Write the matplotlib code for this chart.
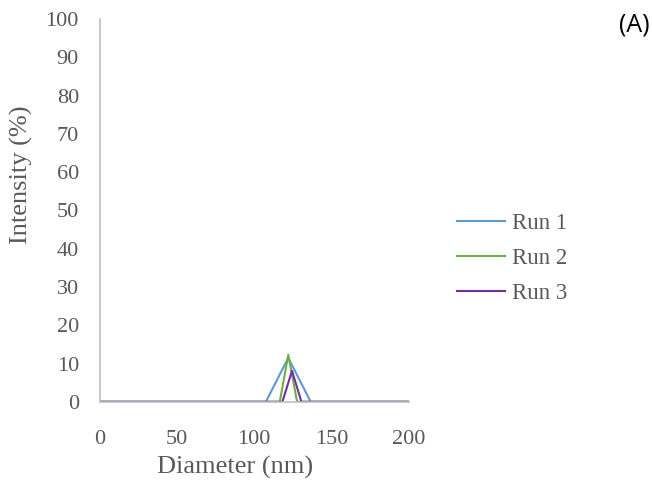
import matplotlib.pyplot as plt

# Particle size distribution (intensity) for three runs
run1_x = [0, 107.5, 122.0, 136.5, 200]
run1_y = [0, 0, 11.5, 0, 0]
run2_x = [0, 116.5, 122.0, 127.7, 200]
run2_y = [0, 0, 12.3, 0, 0]
run3_x = [0, 118.2, 124.4, 130.5, 200]
run3_y = [0, 0, 8.1, 0, 0]

x_ticks = [0, 50, 100, 150, 200]
y_ticks = list(range(0, 101, 10))

grey = '#595959'
plt.rcParams['font.family'] = ['Liberation Serif', 'DejaVu Serif']

fig = plt.figure(figsize=(6.52, 4.90), dpi=100, facecolor='white')
ax = fig.add_axes([0.153, 0.180, 0.474, 0.781])

ax.plot(run1_x, run1_y, color='#5B9BD5', linewidth=1.5, label='Run 1')
ax.plot(run2_x, run2_y, color='#70AD47', linewidth=1.5, label='Run 2')
ax.plot(run3_x, run3_y, color='#7030A0', linewidth=1.5, label='Run 3')

ax.set_xlim(0, 200)
ax.set_ylim(0, 100)
ax.set_xticks(x_ticks)
ax.set_yticks(y_ticks)
ax.tick_params(length=0, labelsize=16, labelcolor=grey)
ax.tick_params(axis='x', pad=20)
ax.tick_params(axis='y', pad=15)

for s in ['top', 'right']:
    ax.spines[s].set_visible(False)
for s in ['left', 'bottom']:
    ax.spines[s].set_color('#bfbfbf')
    ax.spines[s].set_linewidth(1.2)
    ax.spines[s].set_zorder(5)

ax.set_xlabel('Diameter (nm)', fontsize=19, color=grey, va='center')
ax.xaxis.set_label_coords(0.437, -0.172)
ax.set_ylabel('Intensity (%)', fontsize=19, color=grey, va='center')
ax.yaxis.set_label_coords(-0.252, 0.593)

leg = ax.legend(loc='center left', bbox_to_anchor=(0.669, 0.473),
                bbox_transform=fig.transFigure, frameon=False,
                fontsize=16.5, labelcolor=grey, handlelength=2.1,
                labelspacing=0.6, handletextpad=0.3)

fig.text(0.997, 0.949, '(A)', fontsize=18, color='black', ha='right', va='center',
         family=['Open Sans', 'DejaVu Sans'])

fig.savefig('out.png', dpi=100, facecolor='white')
